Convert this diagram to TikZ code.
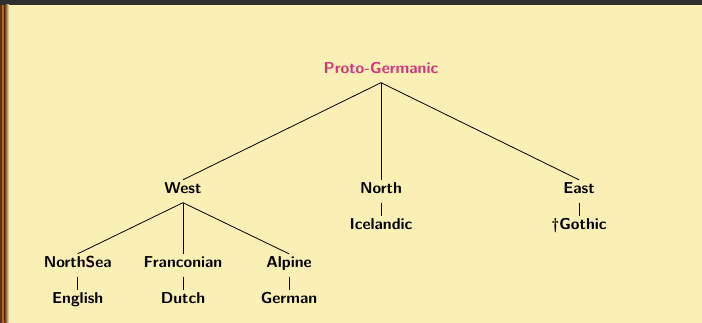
\documentclass[tikz,border=0pt]{standalone}
\usepackage{tikz}
\definecolor{bgyellow}{HTML}{FAEFB5}
\definecolor{bgdark}{HTML}{F1E2A2}
\definecolor{pgmag}{HTML}{D0357E}
\definecolor{topbar}{HTML}{2F2F2F}
\definecolor{edgeorange}{HTML}{C2621C}
\definecolor{edgebrown}{HTML}{5A3418}
\tikzset{
  lang/.style={font=\sffamily\bfseries\fontsize{15.8}{18}\selectfont, text height=11pt, text depth=5.5pt, inner xsep=2pt, inner ysep=3pt, anchor=base},
  branch/.style={draw=black, line width=0.8pt}
}
\begin{document}
\begin{tikzpicture}[x=1pt,y=-1pt]
\useasboundingbox (0,0) rectangle (702,323);
\fill[bgyellow] (0,0) rectangle (702,323);
\fill[topbar] (0,0) rectangle (702,5);
\fill[edgeorange] (0,5) rectangle (5,323);
\fill[edgebrown] (0,5) rectangle (1.5,323);
\shade[left color=edgebrown, right color=bgyellow] (4.5,5) rectangle (9,323);

\node[lang, text=pgmag] (pg) at (381,74) {Proto-Germanic};
\node[lang] (west) at (183,194) {West};
\node[lang] (north) at (381,194) {North};
\node[lang] (east) at (579,194) {East};
\node[lang] (ice) at (381,230) {Icelandic};
\node[lang] (goth) at (579,230) {\dag Gothic};
\node[lang] (ns) at (77.7,268) {NorthSea};
\node[lang] (fr) at (183,268) {Franconian};
\node[lang] (al) at (289,268) {Alpine};
\node[lang] (en) at (77.7,304) {English};
\node[lang] (du) at (183,304) {Dutch};
\node[lang] (ge) at (289,304) {German};

\draw[branch] (pg.south) -- (west.north);
\draw[branch] (pg.south) -- (north.north);
\draw[branch] (pg.south) -- (east.north);
\draw[branch] (north.south) -- (ice.north);
\draw[branch] (east.south) -- (goth.north);
\draw[branch] (west.south) -- (ns.north);
\draw[branch] (west.south) -- (fr.north);
\draw[branch] (west.south) -- (al.north);
\draw[branch] (ns.south) -- (en.north);
\draw[branch] (fr.south) -- (du.north);
\draw[branch] (al.south) -- (ge.north);
\end{tikzpicture}
\end{document}
